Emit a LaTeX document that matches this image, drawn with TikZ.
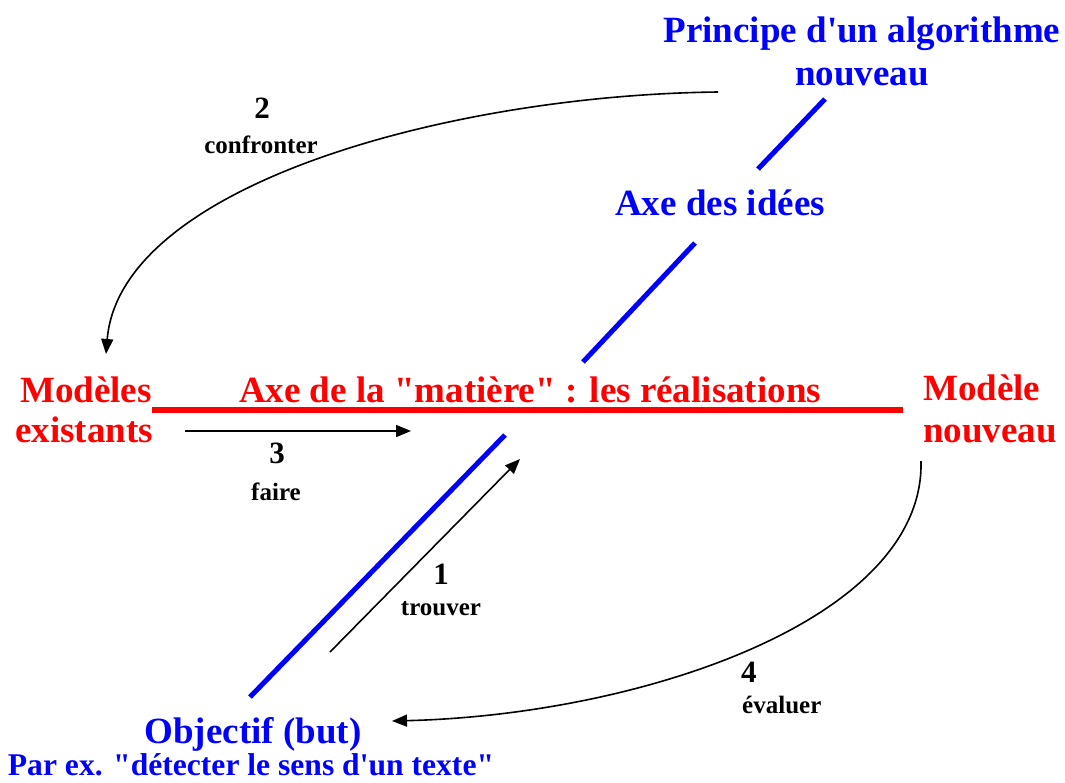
\documentclass[tikz,border=0pt]{standalone}
\usepackage{fontspec}
\newfontfamily\lib{Liberation Serif}
\usetikzlibrary{arrows.meta}
\begin{document}
\begin{tikzpicture}[x=1pt,y=-1pt,
  big/.style={font=\lib\bfseries\fontsize{37}{42}\selectfont, inner sep=0pt, anchor=base},
  mid/.style={font=\lib\bfseries\fontsize{31.6}{36}\selectfont, inner sep=0pt, anchor=base},
  small/.style={font=\lib\bfseries\fontsize{25}{30}\selectfont, inner sep=0pt, anchor=base},
  num/.style={font=\lib\bfseries\fontsize{31}{36}\selectfont, inner sep=0pt, anchor=base},
  redtxt/.style={text={rgb,255:red,255;green,0;blue,0}},
  bluetxt/.style={text={rgb,255:red,0;green,0;blue,255}},
  axisred/.style={draw={rgb,255:red,255;green,0;blue,0}, line width=5.5pt},
  axisblue/.style={draw={rgb,255:red,0;green,0;blue,255}, line width=5pt},
  arr/.style={draw=black, line width=1.6pt, -{Triangle[length=15pt,width=12pt]}}
]
\useasboundingbox (0,0) rectangle (1065,782);

% texts
\node[big,bluetxt] (p1) at (862,42) {Principe d'un algorithme};
\node[big,bluetxt] (p2) at (862,85) {nouveau};
\node[big,bluetxt] (ai) at (720,215) {Axe des idées};
\node[big,redtxt] (me1) at (86,402) {Modèles};
\node[big,redtxt] (me2) at (84,442) {existants};
\node[big,redtxt] (am) at (530,402) {Axe de la "matière" : les réalisations};
\node[big,redtxt,anchor=base west] (mn1) at (923,400) {Modèle};
\node[big,redtxt,anchor=base west] (mn2) at (923,442) {nouveau};
\node[big,bluetxt] (ob) at (253,743) {Objectif (but)};
\node[mid,bluetxt] (px) at (251,775) {Par ex. "détecter le sens d'un texte"};

\node[num] (n2) at (262,118) {2};
\node[small] (l2) at (261,153) {confronter};
\node[num] (n3) at (277,463) {3};
\node[small] (l3) at (276,500) {faire};
\node[num] (n1) at (441,584) {1};
\node[small] (l1) at (441,615) {trouver};
\node[num,anchor=base west] (n4) at (741,682) {4};
\node[small,anchor=base west] (l4) at (742,713) {évaluer};

% axes
\coordinate (ra) at (152,410);
\coordinate (rb) at (903,410);
\draw[axisred] (ra) -- (rb);
\coordinate (b1) at (825,99);
\coordinate (b2) at (758,169);
\coordinate (b3) at (695,243);
\coordinate (b4) at (583,362);
\draw[axisblue] (b1) -- (b2);
\draw[axisblue] (b3) -- (b4);
\coordinate (b5) at (505,435);
\coordinate (b6) at (250,697);
\draw[axisblue] (b5) -- (b6);

% arrows
\coordinate (a3s) at (185,431);
\coordinate (a3e) at (411,431);
\draw[arr] (a3s) -- (a3e);
\coordinate (a1s) at (330,652);
\coordinate (a1e) at (520,459);
\draw[arr] (a1s) -- (a1e);
\coordinate (a2s) at (718,92);
\coordinate (a2e) at (106,354);
\draw[arr] (a2s) .. controls (450,95) and (120,185) .. (a2e);
\coordinate (a4s) at (921,461);
\coordinate (a4e) at (392,721);
\draw[arr] (a4s) .. controls (925,620) and (640,715) .. (a4e);
\end{tikzpicture}
\end{document}
